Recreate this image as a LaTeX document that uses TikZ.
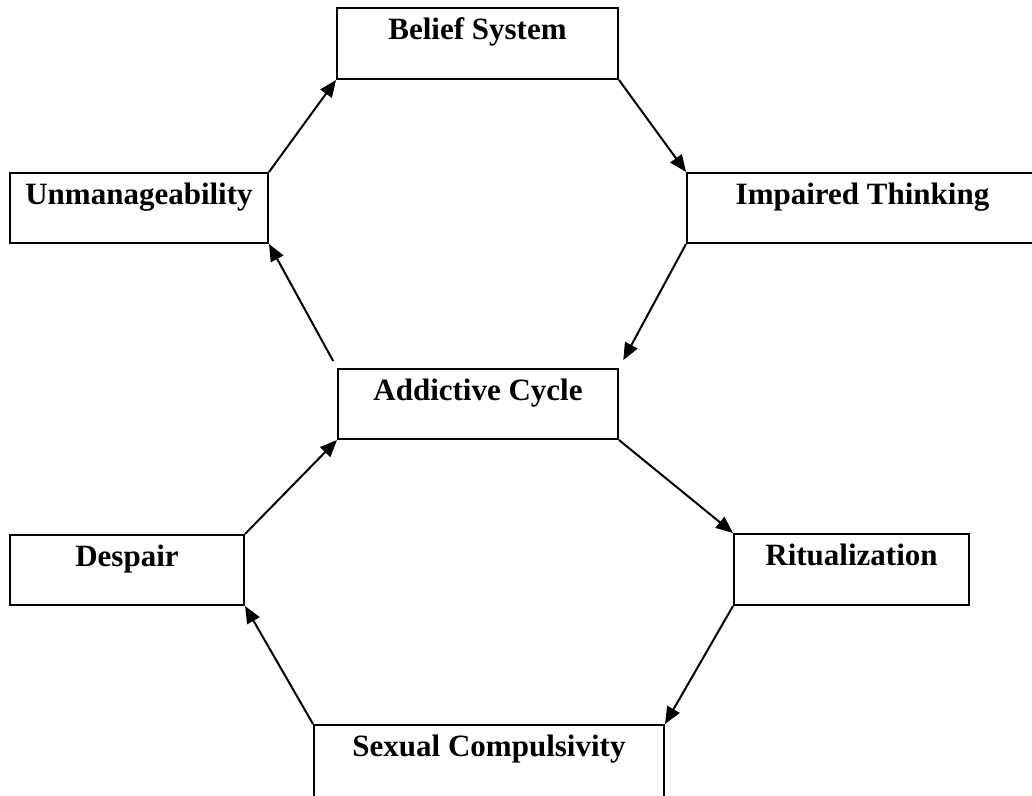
\documentclass[tikz,border=0pt]{standalone}
\usepackage{fontspec}
\setmainfont{Liberation Serif}
\usetikzlibrary{arrows.meta}
\begin{document}
\begin{tikzpicture}[x=1pt,y=-1pt,
  box/.style={draw,line width=2pt,rectangle,anchor=north west,inner sep=0pt,
    font=\fontsize{31}{36}\selectfont\bfseries,text height=31pt},
  conn/.style={line width=2pt,-{Triangle[length=17pt,width=14pt]}}]
\useasboundingbox (0,0) rectangle (1032,795);
\node[box,minimum width=281pt,minimum height=71pt,text depth=40pt] (bel) at (336,7) {Belief System};
\node[box,minimum width=258pt,minimum height=70pt,text depth=39pt] (unm) at (9,172) {Unmanageability};
\node[box,minimum width=351pt,minimum height=70pt,text depth=39pt] (imp) at (686,172) {Impaired Thinking};
\node[box,minimum width=280pt,minimum height=70pt,text depth=39pt] (add) at (337,368) {Addictive Cycle};
\node[box,minimum width=234pt,minimum height=70pt,text depth=39pt] (des) at (9,534) {Despair};
\node[box,minimum width=235pt,minimum height=71pt,text depth=40pt] (rit) at (733,533) {Ritualization};
\node[box,minimum width=350pt,minimum height=74pt,text depth=43pt] (sex) at (313,724) {Sexual Compulsivity};
\draw[conn] (unm.north east) -- (bel.south west);
\draw[conn] (bel.south east) -- (imp.north west);
\draw[conn,shorten >=9pt] (imp.south west) -- (add.north east);
\draw[conn,shorten <=8pt] (add.north west) -- (unm.south east);
\draw[conn] (des.north east) -- (add.south west);
\draw[conn] (add.south east) -- (rit.north west);
\draw[conn] (rit.south west) -- (sex.north east);
\draw[conn] (sex.north west) -- (des.south east);
\end{tikzpicture}
\end{document}
